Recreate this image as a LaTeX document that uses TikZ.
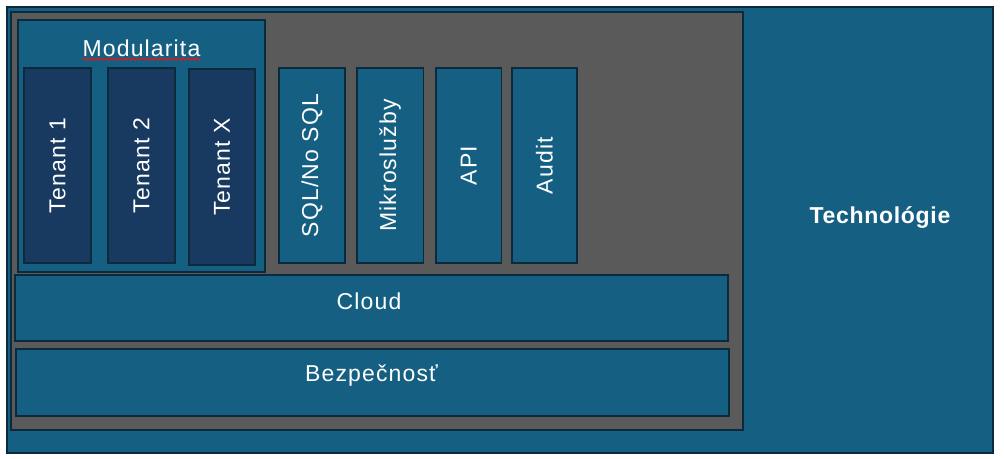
\documentclass[tikz,border=0pt]{standalone}
\usepackage{fontspec}
\setmainfont{Liberation Sans}[LetterSpace=5]
\usetikzlibrary{decorations.pathmorphing}
\definecolor{accblue}{HTML}{156082}
\definecolor{tenblue}{HTML}{193A60}
\definecolor{edgecol}{HTML}{0C2A3B}
\definecolor{graybg}{HTML}{5A5A5A}
\definecolor{spellred}{HTML}{E01818}
\tikzset{
  box/.style={draw=edgecol, line width=1.6pt, inner sep=0pt, outer sep=0pt, fill=accblue},
  tenbox/.style={box, fill=tenblue},
  graybox/.style={box, fill=graybg},
  lbl/.style={text=white, font=\fontsize{23}{27}\selectfont, inner sep=0pt},
  vlbl/.style={lbl, rotate=90},
  blbl/.style={lbl, font=\fontsize{23}{27}\selectfont\bfseries\addfontfeature{LetterSpace=3}},
  spell/.style={spellred, line width=1pt, decorate, decoration={snake, segment length=4.5pt, amplitude=1.1pt}},
}
\begin{document}
\begin{tikzpicture}[x=1pt,y=-1pt]
\useasboundingbox (0,0) rectangle (1004,458);
\fill[white] (0,0) rectangle (1004,458);
% outer
\node[box, minimum width=986pt, minimum height=446pt] (outer) at (500,230) {};
\node[graybox, minimum width=732pt, minimum height=418pt] (core) at (377,221) {};
% Modularita
\node[box, minimum width=247pt, minimum height=252pt] (mod) at (141.5,146) {};
\node[lbl] (modl) at (141.5,48.5) {Modularita};
\coordinate (spA) at ([yshift=-2pt]modl.south west);
\coordinate (spB) at ([yshift=-2pt]modl.south east);
\draw[spell] (spA) -- (spB);
% tenants
\node[tenbox, minimum width=67pt, minimum height=195pt] (t1) at (57.5,165.5) {};
\node[tenbox, minimum width=67pt, minimum height=195pt] (t2) at (141.5,165.5) {};
\node[tenbox, minimum width=66pt, minimum height=196pt] (tx) at (222,167) {};
\node[vlbl] (t1l) at (t1.center) {Tenant 1};
\node[vlbl] (t2l) at (t2.center) {Tenant 2};
\node[vlbl] (txl) at (tx.center) {Tenant X};
% other columns
\node[box, minimum width=66pt, minimum height=195pt] (sql) at (312,165.5) {};
\node[box, minimum width=66.5pt, minimum height=195pt] (mikro) at (390.25,165.5) {};
\node[box, minimum width=65.5pt, minimum height=195pt] (api) at (468.75,165.5) {};
\node[box, minimum width=65pt, minimum height=195pt] (audit) at (544.5,165.5) {};
\node[vlbl] (sqll) at (sql.center) {SQL/No SQL};
\node[vlbl] (mikrol) at (mikro.center) {Mikroslužby};
\node[vlbl] (apil) at (api.center) {API};
\node[vlbl] (auditl) at (audit.center) {Audit};
% bars
\node[box, minimum width=713pt, minimum height=66pt] (cloud) at (371.5,308) {};
\node[box, minimum width=713pt, minimum height=67pt] (bez) at (372.5,382.5) {};
\node[lbl] (cloudl) at (369,301) {Cloud};
\node[lbl] (bezl) at (371.5,376) {Bezpečnosť};
% technologie
\node[blbl] (tech) at (880,217) {Technológie};
\end{tikzpicture}
\end{document}
